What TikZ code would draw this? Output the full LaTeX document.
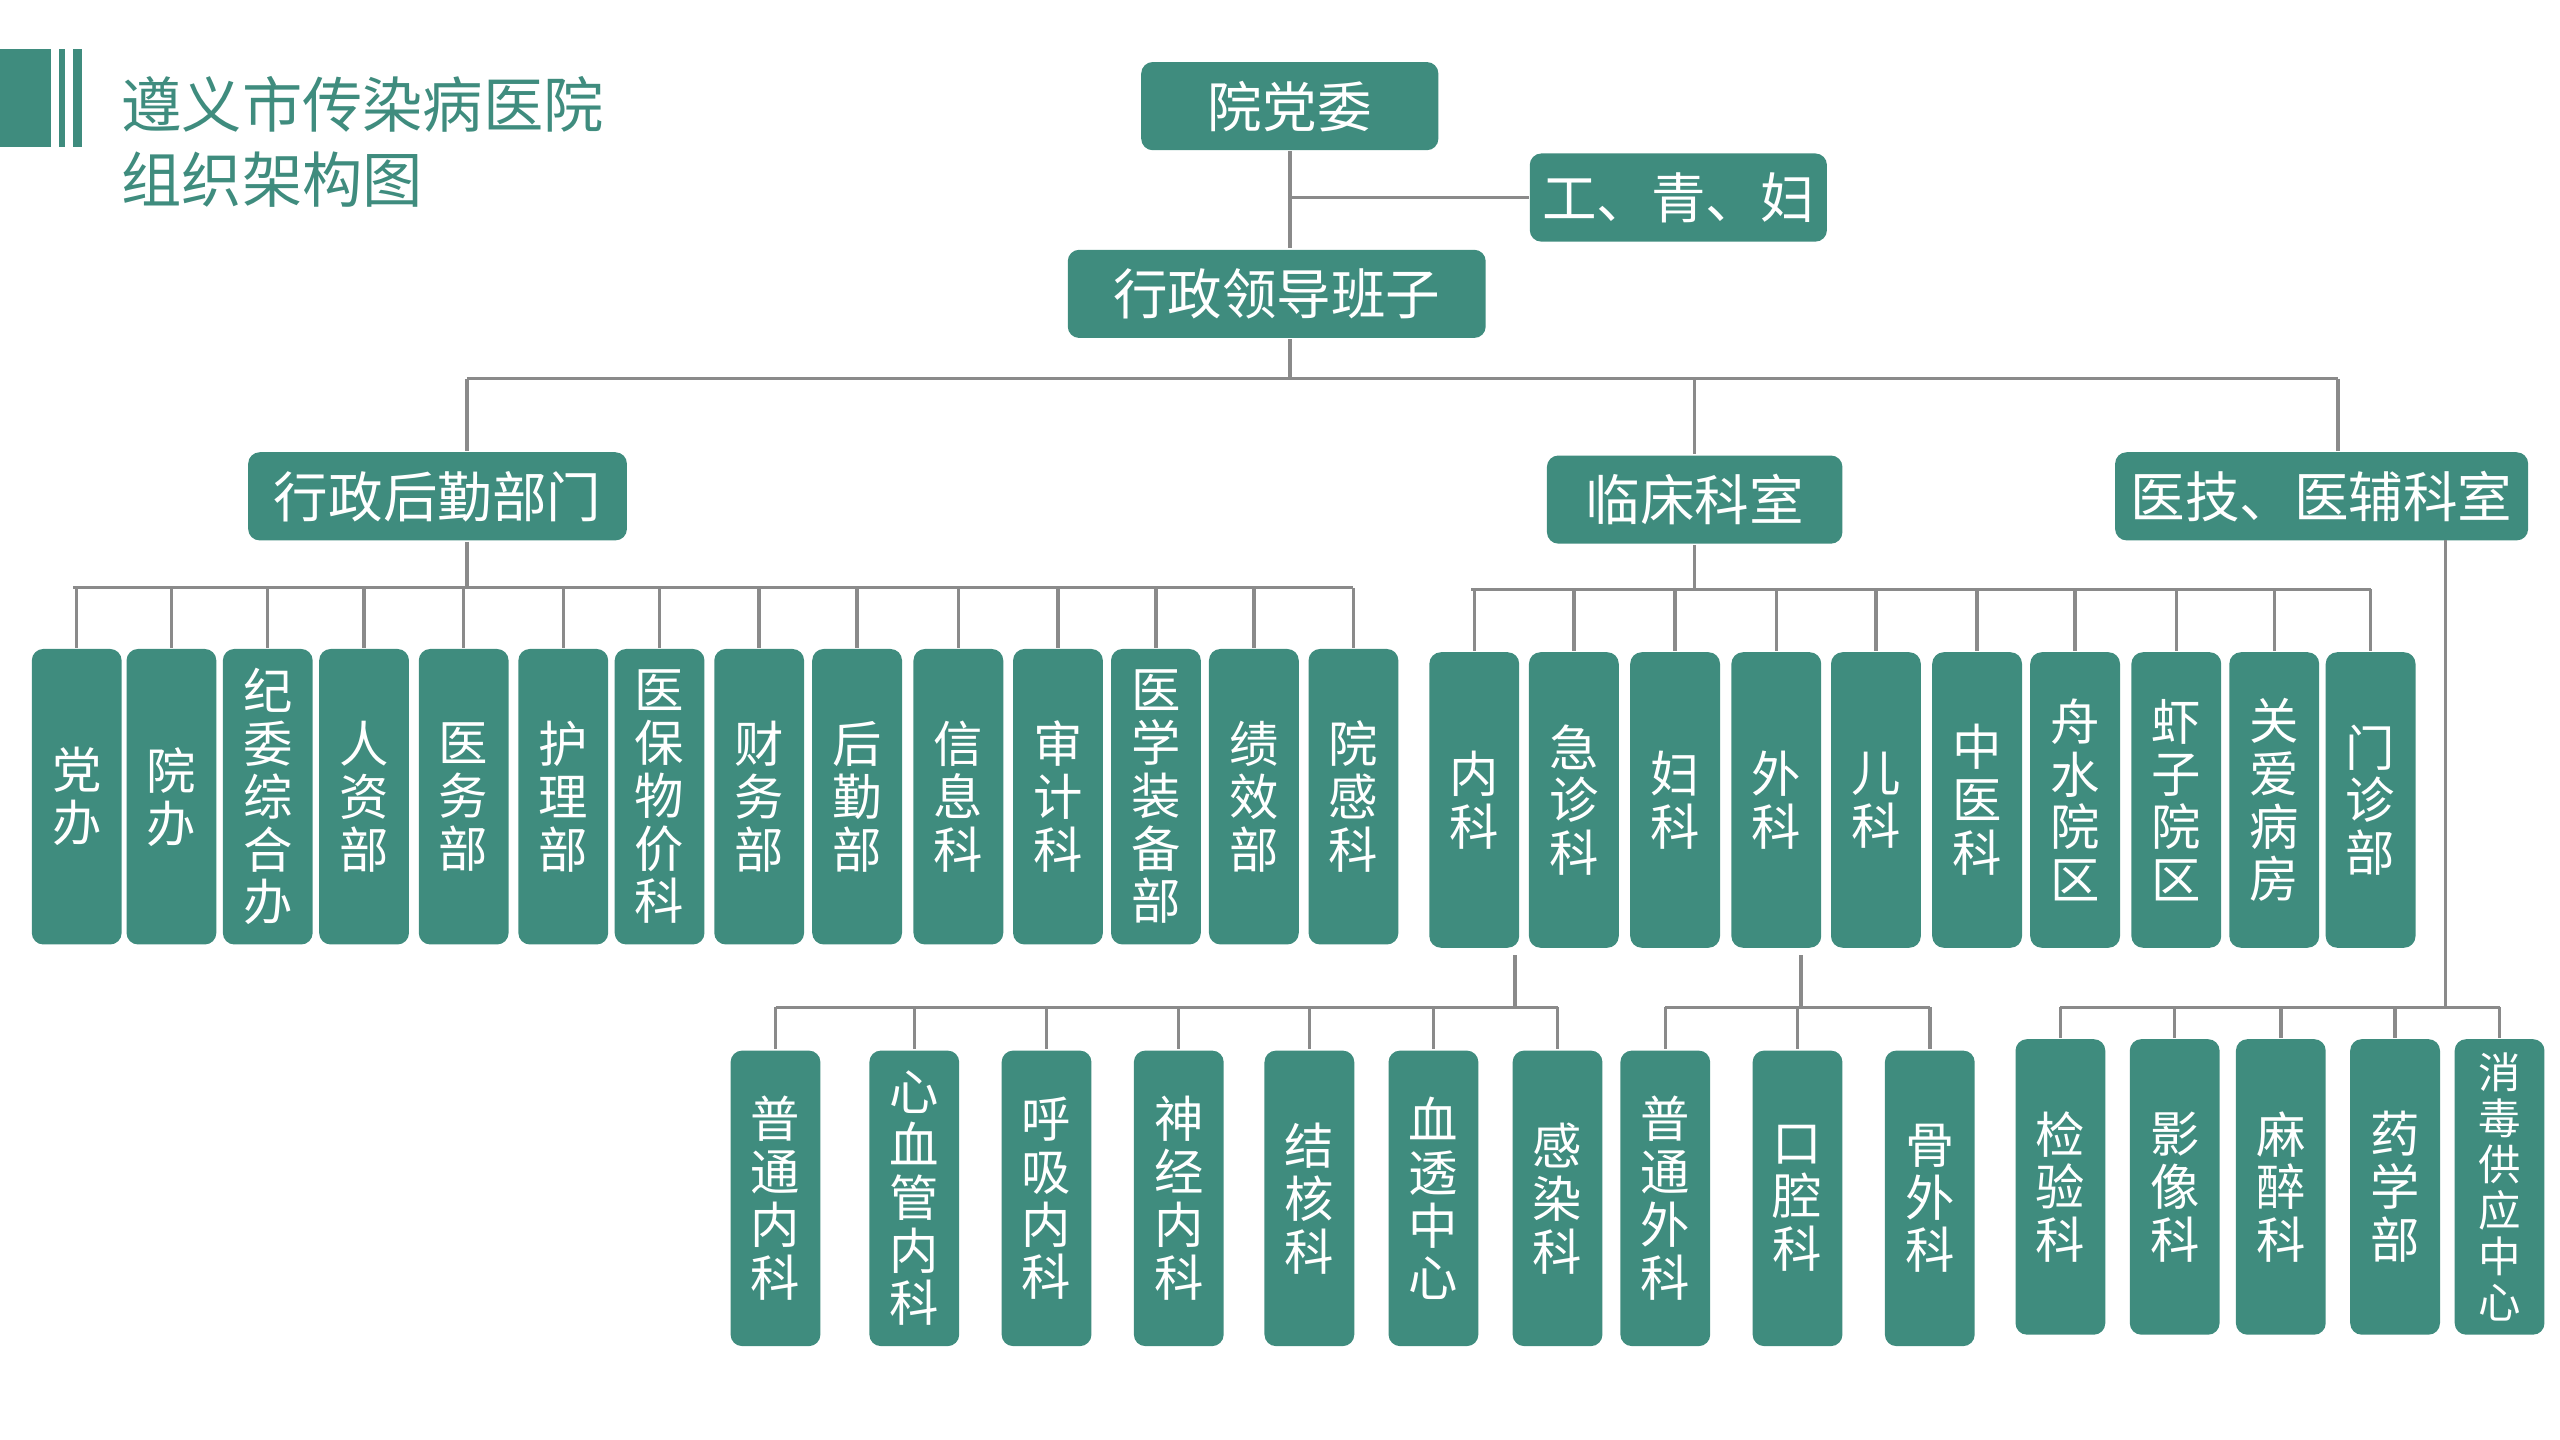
\documentclass[tikz,border=0pt]{standalone}
\usepackage{fontspec}
\setmainfont{Noto Sans CJK SC}
\definecolor{tl}{HTML}{3F8C7E}
\definecolor{ln}{HTML}{8A8A8A}
\tikzset{
 hb/.style={fill=tl,rounded corners=2pt,text=white,font=\fontsize{9.5pt}{11pt}\selectfont,minimum height=54*0.01cm,inner sep=0pt},
 vb/.style={fill=tl,rounded corners=2pt,text=white,font=\fontsize{8.6pt}{9.2pt}\selectfont,minimum width=55*0.01cm,minimum height=181*0.01cm,align=center,inner sep=0pt},
 cn/.style={draw=ln,line width=0.6pt}
}
\begin{document}
\begin{tikzpicture}[x=0.01cm,y=-0.01cm]
\useasboundingbox (0,0) rectangle (1568,882);
\fill[tl] (0,30) rectangle (31,90);
\fill[tl] (36,30) rectangle (40,90);
\fill[tl] (45,30) rectangle (50,90);
\node[anchor=west,text=tl,font=\fontsize{10.5pt}{13pt}\selectfont,align=left] (title) at (62,87) {遵义市传染病医院\\组织架构图};
% top
\node[hb,minimum width=182*0.01cm] (dw) at (790,65) {院党委};
\node[hb,minimum width=182*0.01cm] (gqf) at (1028,121) {工、青、妇};
\node[hb,minimum width=256*0.01cm] (xz) at (782,180) {行政领导班子};
\coordinate (t1) at (790,152);
\draw[cn] (dw.south -| t1) -- (t1);
\draw[cn] (790,121) -- (gqf.west);
\coordinate (bus0) at (790,232);
\draw[cn] (xz.south -| bus0) -- (bus0);
\node[hb,minimum width=232*0.01cm] (hq) at (268,304) {行政后勤部门};
\node[hb,minimum width=181*0.01cm] (lc) at (1038,306) {临床科室};
\node[hb,minimum width=253*0.01cm] (yj) at (1422,304) {医技、医辅科室};
\coordinate (hqt) at (286,232); \coordinate (yjt) at (1432,232);
\draw[cn] (hqt) -- (yjt);
\draw[cn] (hqt) -- (hqt |- hq.north);
\draw[cn] (1038,232) -- (lc.north);
\draw[cn] (yjt) -- (yjt |- yj.north);
% admin row
\foreach \n/\x/\t in {a1/47/党\\办, a2/105/院\\办, a3/164/纪\\委\\综\\合\\办, a4/223/人\\资\\部, a5/284/医\\务\\部, a6/345/护\\理\\部, a7/404/医\\保\\物\\价\\科, a8/465/财\\务\\部, a9/525/后\\勤\\部, a10/587/信\\息\\科, a11/648/审\\计\\科, a12/708/医\\学\\装\\备\\部, a13/768/绩\\效\\部, a14/829/院\\感\\科}{
 \node[vb] (\n) at (\x,488) {\t};
 \draw[cn] (\x,360) -- (\n.north);
}
\draw[cn] (45,360) -- (829,360);
\draw[cn] (hqt |- hq.south) -- (286,360);
% clinical row
\foreach \n/\x/\t in {c1/903/内\\科, c2/964/急\\诊\\科, c3/1026/妇\\科, c4/1088/外\\科, c5/1149/儿\\科, c6/1211/中\\医\\科, c7/1271/舟\\水\\院\\区, c8/1333/虾\\子\\院\\区, c9/1393/关\\爱\\病\\房, c10/1452/门\\诊\\部}{
 \node[vb] (\n) at (\x,490) {\t};
 \draw[cn] (\x,361) -- (\n.north);
}
\draw[cn] (901,361) -- (1452,361);
\draw[cn] (lc.south) -- (1038,361);
% neike sub
\foreach \n/\x/\t in {n1/475/普\\通\\内\\科, n2/560/心\\血\\管\\内\\科, n3/641/呼\\吸\\内\\科, n4/722/神\\经\\内\\科, n5/802/结\\核\\科, n6/878/血\\透\\中\\心, n7/954/感\\染\\科}{
 \node[vb] (\n) at (\x,734) {\t};
 \draw[cn] (\x,617) -- (\n.north);
}
\draw[cn] (475,617) -- (954,617);
\draw[cn] (928,585) -- (928,617);
% waike sub
\foreach \n/\x/\t in {w1/1020/普\\通\\外\\科, w2/1101/口\\腔\\科, w3/1182/骨\\外\\科}{
 \node[vb] (\n) at (\x,734) {\t};
 \draw[cn] (\x,617) -- (\n.north);
}
\draw[cn] (1020,617) -- (1182,617);
\draw[cn] (1103,585) -- (1103,617);
% yiji sub
\foreach \n/\x/\t in {y1/1262/检\\验\\科, y2/1332/影\\像\\科, y3/1397/麻\\醉\\科, y4/1467/药\\学\\部}{
 \node[vb] (\n) at (\x,727) {\t};
 \draw[cn] (\x,617) -- (\n.north);
}
\node[vb,font=\fontsize{7.4pt}{8pt}\selectfont] (y5) at (1531,727) {消\\毒\\供\\应\\中\\心};
\draw[cn] (1531,617) -- (y5.north);
\draw[cn] (1262,617) -- (1531,617);
\draw[cn] (1498,331) -- (1498,617);
\end{tikzpicture}
\end{document}
